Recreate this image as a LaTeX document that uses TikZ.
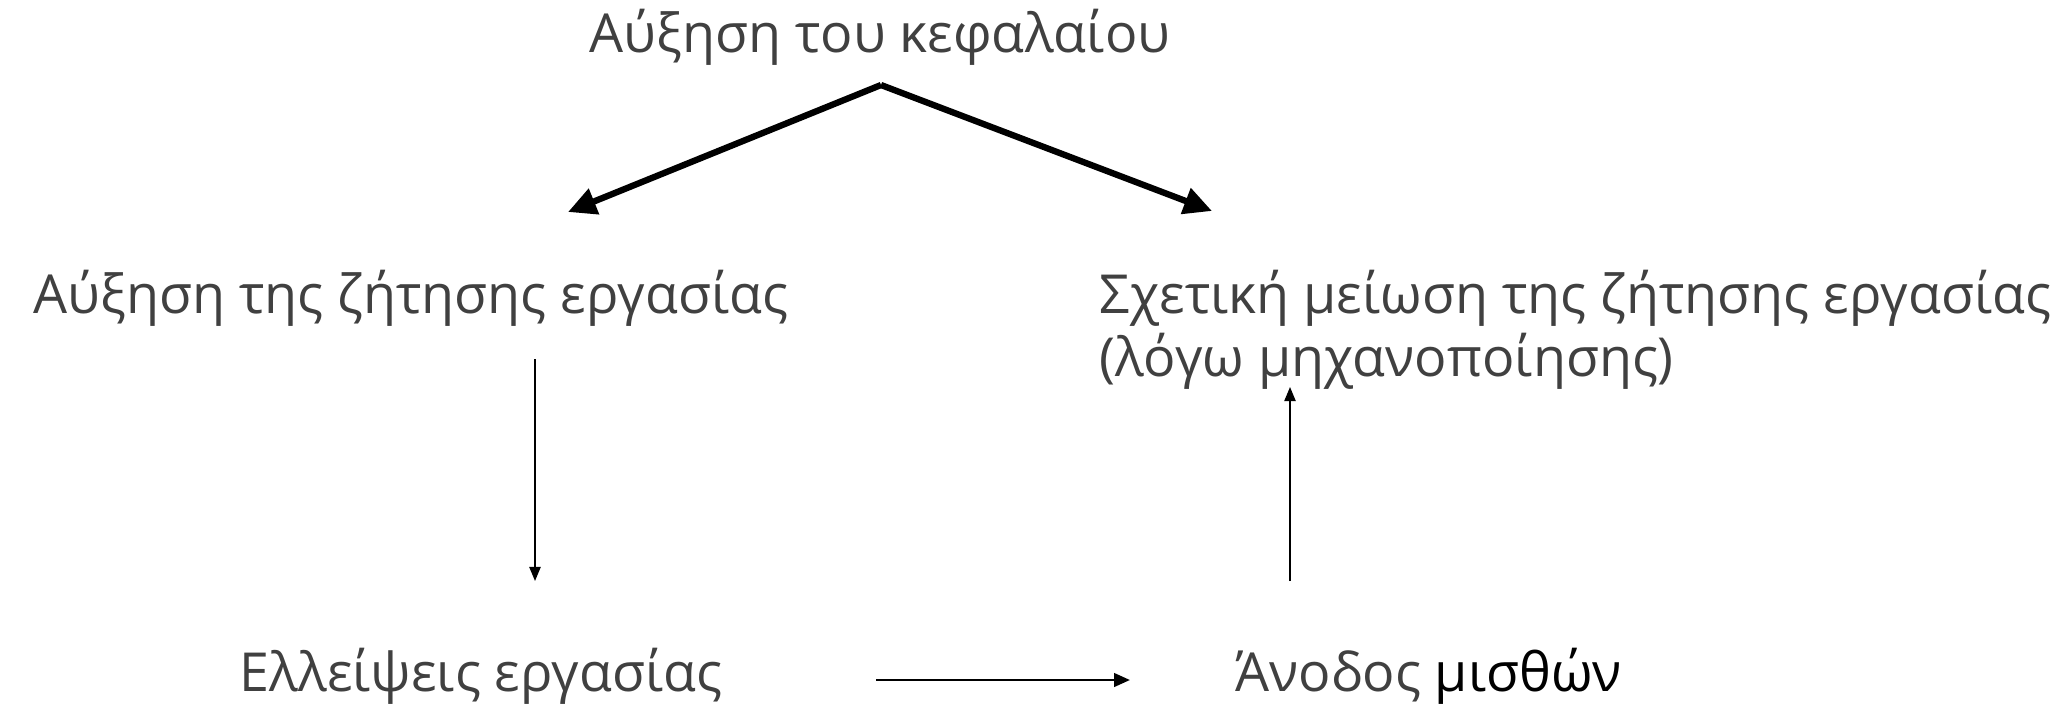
\documentclass[tikz,border=0pt]{standalone}
\usepackage{fontspec}
\setmainfont{Open Sans}
\usepackage{xcolor}
\usepackage{tikz}
\usetikzlibrary{arrows.meta,positioning}

\definecolor{textgray}{HTML}{404040}

\begin{document}
\begin{tikzpicture}[
            >=latex,
            label/.style={inner sep=0pt, text=textgray, font=\fontsize{15.3}{17.9}\selectfont},
            bigarrow/.style={line width=1.8pt, -{Triangle[length=8pt,width=7.5pt]}},
            smallarrow/.style={line width=0.45pt, -{Triangle[length=4pt,width=3.2pt]}}
        ]
        \useasboundingbox (0,0) rectangle (20.61,7.03);
        \node[label, anchor=base] (capital) at (8.80,6.51) {Αύξηση του κεφαλαίου};
        \node[label, anchor=base] (demand) at (4.11,3.90) {Αύξηση της ζήτησης εργασίας};
        % base anchor of a two-line node sits on its last line
        \node[label, anchor=base west, align=left] (relative) at (10.99,3.27)
            {Σχετική μείωση της ζήτησης εργασίας\\(λόγω μηχανοποίησης)};
        \node[label, anchor=base] (shortage) at (4.81,0.12) {Ελλείψεις εργασίας};
        \node[label, anchor=base west] (wages) at (12.35,0.12) {Άνοδος \textcolor{black}{μισθών}};

        \coordinate (apex) at (8.81,6.18);
        \coordinate (lefttip) at (5.68,4.91);
        \coordinate (righttip) at (12.12,4.92);
        \draw[bigarrow] (apex) -- (lefttip);
        \draw[bigarrow] (apex) -- (righttip);

        \coordinate (downtop) at (5.35,3.44);
        \coordinate (downend) at (5.35,1.22);
        \draw[smallarrow] (downtop) -- (downend);

        \coordinate (upfoot) at (12.90,1.22);
        \coordinate (upend) at (12.90,3.16);
        \draw[smallarrow] (upfoot) -- (upend);

        \coordinate (rightstart) at (8.76,0.23);
        \coordinate (rightend) at (11.30,0.23);
        \draw[line width=0.8pt, -{Triangle[length=4.5pt,width=3.8pt]}] (rightstart) -- (rightend);
    \end{tikzpicture}
\end{document}
